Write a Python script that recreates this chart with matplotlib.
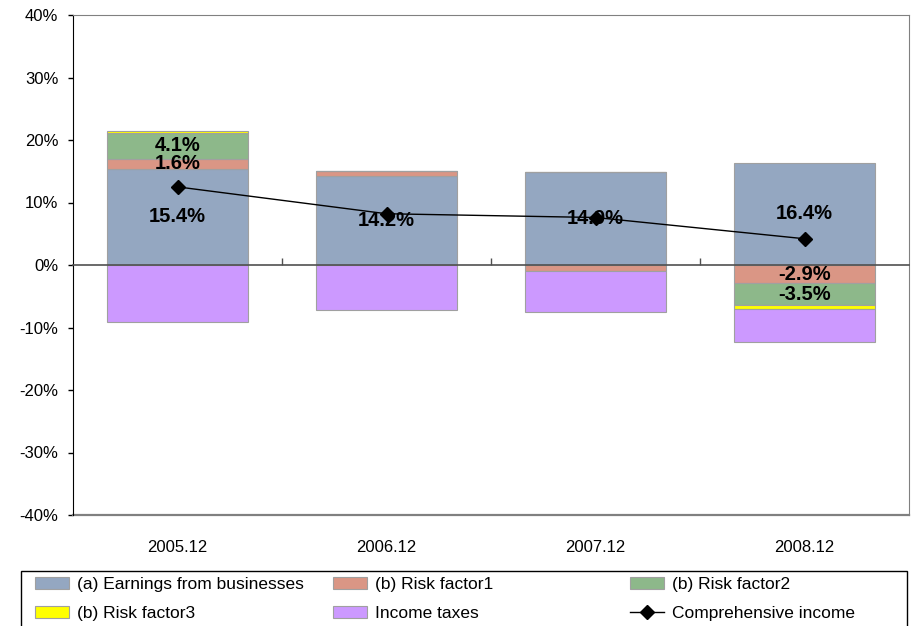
import numpy as np
import matplotlib
matplotlib.use('Agg')
import matplotlib.pyplot as plt
from matplotlib.patches import Patch, Rectangle
from matplotlib.lines import Line2D

plt.rcParams['font.family'] = ['Liberation Sans', 'DejaVu Sans']

# data (percent)
periods = ['2005.12', '2006.12', '2007.12', '2008.12']
earnings = [15.4, 14.2, 14.9, 16.4]
risk1 = [1.6, 0.9, -1.0, -2.9]
risk2 = [4.1, 0.0, 0.0, -3.5]
risk3 = [0.4, 0.0, 0.0, -0.6]
taxes = [-9.1, -7.2, -6.5, -5.3]
comprehensive = [12.5, 8.2, 7.6, 4.2]
y_ticks = [-40, -30, -20, -10, 0, 10, 20, 30, 40]

series = [
    ('(a) Earnings from businesses', earnings, '#94A7C1', True),
    ('(b) Risk factor1', risk1, '#DA9685', True),
    ('(b) Risk factor2', risk2, '#8DB88A', True),
    ('(b) Risk factor3', risk3, '#FFFF00', False),
    ('Income taxes', taxes, '#CC99FF', False),
]
edge = '#A0A0A0'

fig = plt.figure(figsize=(9.13, 6.26), dpi=100)
ax = fig.add_axes([73 / 913, 1 - 515 / 626, (909 - 73) / 913, 500 / 626])

x = np.arange(len(periods))
pos_base = np.zeros(len(periods))
neg_base = np.zeros(len(periods))
handles = {}
for name, vals, color, labelled in series:
    vals = np.array(vals, dtype=float)
    base = np.where(vals >= 0, pos_base, neg_base)
    ax.bar(x, vals, width=0.67, bottom=base, color=color,
           edgecolor=edge, linewidth=0.8, zorder=2)
    if labelled:
        for xi, b, v in zip(x, base, vals):
            if abs(v) >= 1.5:
                ax.text(xi, b + v / 2, f'{v:.1f}%', ha='center', va='center',
                        fontsize=14.5, fontweight='bold', zorder=5)
    pos_base = np.where(vals >= 0, pos_base + vals, pos_base)
    neg_base = np.where(vals < 0, neg_base + vals, neg_base)
    handles[name] = Patch(facecolor=color, edgecolor=edge, linewidth=0.8)

ax.plot(x, comprehensive, color='black', linewidth=1, marker='D',
        markersize=7.5, zorder=4)
handles['Comprehensive income'] = Line2D([], [], color='black', linewidth=1,
                                         marker='D', markersize=7)

ax.set_xlim(-0.5, len(periods) - 0.5)
ax.set_ylim(-40, 40)
ax.set_yticks(y_ticks)
ax.set_yticklabels([f'{v}%' for v in y_ticks], fontsize=12)
ax.tick_params(axis='y', length=3.6, width=1, pad=7, colors='black')

# category axis crosses at zero
ax.spines['bottom'].set_position(('data', 0))
ax.spines['bottom'].set_color('#505050')
ax.spines['bottom'].set_linewidth(1.2)
ax.spines['bottom'].set_zorder(3)
ax.set_xticks(np.arange(len(periods) - 1) + 0.5)
ax.set_xticklabels([])
ax.tick_params(axis='x', direction='in', length=5, width=1, colors='#505050')
for xi, p in zip(x, periods):
    ax.text(xi, -0.066, p, transform=ax.get_xaxis_transform(), ha='center',
            va='center', fontsize=12)

for s in ['top', 'right']:
    ax.spines[s].set_color('#808080')
ax.spines['left'].set_color('black')
ax.axhline(-40, color='#808080', linewidth=1.6, clip_on=False)

# legend, three columns
cols = [
    (35, ['(a) Earnings from businesses', '(b) Risk factor3']),
    (333, ['(b) Risk factor1', 'Income taxes']),
    (630, ['(b) Risk factor2', 'Comprehensive income']),
]
for cx, names in cols:
    fig.legend([handles[n] for n in names], names, loc='upper left',
               bbox_to_anchor=(cx / 913, 1 - 577 / 626), frameon=False,
               borderpad=0, borderaxespad=0, fontsize=12.5,
               handlelength=1.95, handleheight=0.65, handletextpad=0.45,
               labelspacing=0.8)
fig.patches.append(Rectangle((21 / 913, -0.01), 886 / 913, (626 - 571) / 626 + 0.01,
                             transform=fig.transFigure, fill=False,
                             edgecolor='black', linewidth=1))

fig.savefig('out.png', dpi=100)
